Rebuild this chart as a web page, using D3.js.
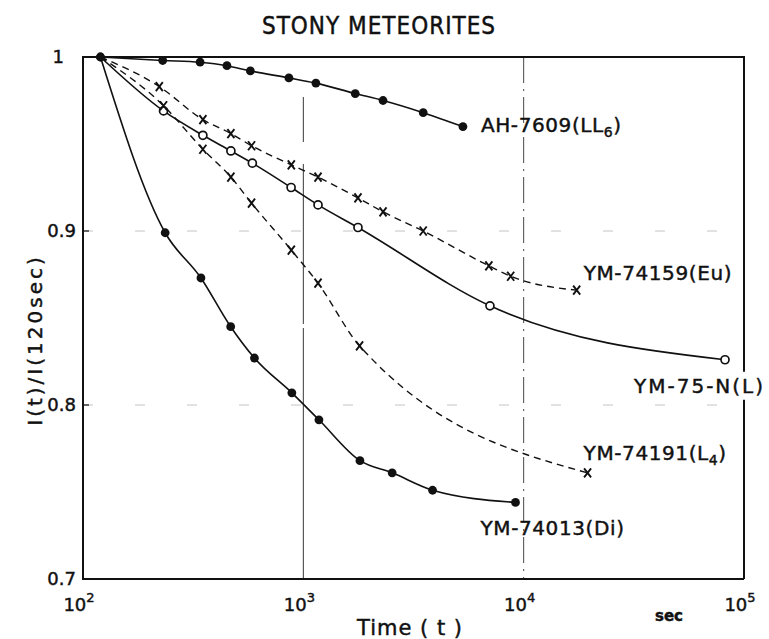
<!DOCTYPE html>
<html>
<head>
<meta charset="utf-8">
<script src="https://cdn.jsdelivr.net/npm/d3@7"></script>
<style>
  body { margin: 0; background: #fff; }
  svg { font-family: "DejaVu Sans", sans-serif; }
  svg text { fill: #111; stroke: #111; stroke-width: 0.45; }
  .curve { fill: none; stroke: #111; stroke-width: 1.6; }
  .curve.dashed { stroke-width: 1.4; stroke-dasharray: 7,5; }
  .frame { stroke: #111; stroke-width: 2; fill: none; }
  .label { font-size: 20px; }
  .tick-label { font-size: 18px; }
</style>
</head>
<body>
<script>

// values: time in sec, I(t)/I(120sec)
const ah7609Time  = [120, 230, 340, 450, 575, 860, 1140, 1720, 2300, 3500, 5300];
const ah7609Value = [1.0, 0.998, 0.997, 0.995, 0.992, 0.988, 0.985, 0.979, 0.975, 0.968, 0.960];

const ym74159Time  = [120, 222, 350, 469, 582, 882, 1166, 1770, 2300, 3500, 6950, 8730, 17400];
const ym74159Value = [1.0, 0.983, 0.964, 0.956, 0.949, 0.938, 0.931, 0.919, 0.911, 0.900, 0.880, 0.874, 0.866];

const ym75nTime  = [120, 232, 350, 469, 587, 880, 1166, 1770, 7030, 82000];
const ym75nValue = [1.0, 0.969, 0.955, 0.946, 0.939, 0.925, 0.915, 0.902, 0.857, 0.826];

const ym74191Time  = [120, 232, 350, 469, 582, 882, 1166, 1800, 19500];
const ym74191Value = [1.0, 0.972, 0.947, 0.931, 0.916, 0.889, 0.870, 0.834, 0.761];

const ym74013Time  = [120, 236, 343, 468, 600, 887, 1177, 1807, 2530, 3860, 9180];
const ym74013Value = [1.0, 0.899, 0.873, 0.845, 0.827, 0.807, 0.7915, 0.768, 0.761, 0.751, 0.744];

const yTicks = [0.7, 0.8, 0.9, 1.0];
const yTickLabels = ["0.7", "0.8", "0.9", "1"];
const xTicks = [1e2, 1e3, 1e4, 1e5];
const xTickExponents = ["2", "3", "4", "5"];

const titleText = "STONY METEORITES";
const xTitle = "Time ( t )";
const yTitle = "I(t)/I(120sec)";


// **********************************************************
//                      Definitions
// **********************************************************

const width = 769, height = 639;

const xScale = d3.scaleLog()
    .domain([1e2, 1e5])
    .range([83, 744]);

const yScale = d3.scaleLinear()
    .domain([0.7, 1.0])
    .range([579, 57]);

const lineFunction = d3.line()
    .x((d) => xScale(d.t))
    .y((d) => yScale(d.v))
    .curve(d3.curveMonotoneX);

// label name / subscript, line style, marker, label offset from last point
const series = [
    {name: "AH-7609(LL", sub: "6", tail: ")", time: ah7609Time, value: ah7609Value,
     dashed: false, marker: "dot", dx: 18, dy: 5, spacing: 0.6},
    {name: "YM-74159(Eu)", sub: "", tail: "", time: ym74159Time, value: ym74159Value,
     dashed: true, marker: "cross", dx: 7, dy: -10, spacing: 0.6},
    {name: "YM-75-N(L)", sub: "", tail: "", time: ym75nTime, value: ym75nValue,
     dashed: false, marker: "open", dx: -91, dy: 33, spacing: 2, knockout: true},
    {name: "YM-74191(L", sub: "4", tail: ")", time: ym74191Time, value: ym74191Value,
     dashed: true, marker: "cross", dx: -4, dy: -13, spacing: 0.6},
    {name: "YM-74013(Di)", sub: "", tail: "", time: ym74013Time, value: ym74013Value,
     dashed: false, marker: "dot", dx: -35, dy: 33, spacing: 0.6}
];

series.forEach((s) => {
    s.points = s.time.map((t, i) => ({t: t, v: s.value[i], first: i === 0}));
});


// **********************************************************
//                   Container for diagram
// **********************************************************

const svg = d3.select("body")
    .append("svg")
    .attr("width", width)
    .attr("height", height);

svg.append("rect")
    .attr("width", width)
    .attr("height", height)
    .attr("fill", "#fff");


// **********************************************************
//                      Grid and frame
// **********************************************************

const [x0, x1] = xScale.range();
const [y0, y1] = yScale.range();

// faint horizontal guides
svg.selectAll(".hgrid")
    .data([0.8, 0.9])
    .enter()
    .append("line")
    .attr("class", "hgrid")
    .attr("x1", x0).attr("x2", x1)
    .attr("y1", (d) => yScale(d)).attr("y2", (d) => yScale(d))
    .style("stroke", "#b5b5b5")
    .style("stroke-width", 0.8)
    .style("stroke-dasharray", "10,42");

// vertical guides at 10^3 (thin line) and 10^4 (dash-dot)
svg.append("line")
    .attr("x1", xScale(1e3)).attr("x2", xScale(1e3))
    .attr("y1", yScale(0.977)).attr("y2", y0)
    .style("stroke", "#222")
    .style("stroke-width", 0.9)
    .style("stroke-dasharray", "45,22,160,4,400");

svg.append("line")
    .attr("x1", xScale(1e4)).attr("x2", xScale(1e4))
    .attr("y1", y1).attr("y2", y0)
    .style("stroke", "#333")
    .style("stroke-width", 0.9)
    .style("stroke-dasharray", "26,6,2,6");

// frame
svg.append("path")
    .attr("class", "frame")
    .attr("d", `M${x1},${y0}L${x0},${y0}L${x0},${y1}L${x1},${y1}L${x1},${y0}`);

// small inner ticks on the left axis
svg.selectAll(".ytick")
    .data([0.8, 0.9])
    .enter()
    .append("line")
    .attr("x1", x0).attr("x2", x0 + 6)
    .attr("y1", (d) => yScale(d)).attr("y2", (d) => yScale(d))
    .style("stroke", "#111")
    .style("stroke-width", 1.2);


// **********************************************************
//                         Axes text
// **********************************************************

svg.selectAll(".y-label")
    .data(yTicks)
    .enter()
    .append("text")
    .attr("class", "tick-label")
    .attr("x", (d, i) => yTickLabels[i] === "1" ? x0 - 19 : x0 - 7)
    .attr("y", (d) => yScale(d) + 6)
    .attr("text-anchor", "end")
    .text((d, i) => yTickLabels[i]);

const xl = svg.selectAll(".x-label")
    .data(xTicks)
    .enter()
    .append("text")
    .attr("class", "tick-label")
    .attr("x", (d) => xScale(d) - 4)
    .attr("y", 611)
    .attr("text-anchor", "middle");
xl.append("tspan").text("10");
xl.append("tspan")
    .attr("dy", -9)
    .style("font-size", "13px")
    .text((d, i) => xTickExponents[i]);

svg.append("text")
    .attr("x", 669)
    .attr("y", 621)
    .attr("text-anchor", "middle")
    .style("font-size", "15px")
    .style("font-weight", "bold")
    .text("sec");

svg.append("text")
    .attr("x", 410)
    .attr("y", 635)
    .attr("text-anchor", "middle")
    .style("font-size", "21px")
    .style("letter-spacing", "1px")
    .text(xTitle);

svg.append("text")
    .attr("transform", "translate(42,340) rotate(-90)")
    .attr("text-anchor", "middle")
    .style("font-size", "20px")
    .style("letter-spacing", "3px")
    .text(yTitle);

svg.append("text")
    .attr("x", 379)
    .attr("y", 34)
    .attr("text-anchor", "middle")
    .style("font-family", "'DejaVu Sans Condensed', 'Liberation Sans Narrow', 'DejaVu Sans', sans-serif")
    .style("font-size", "24px")
    .style("letter-spacing", "1px")
    .text(titleText);


// **********************************************************
//                         Drawing
// **********************************************************

svg.selectAll(".curve")
    .data(series)
    .enter()
    .append("path")
    .attr("class", (d) => d.dashed ? "curve dashed" : "curve")
    .attr("d", (d) => lineFunction(d.points));

series.forEach((s) => {
    // the shared start point is drawn only by the filled-dot series
    const pts = s.marker === "dot" ? s.points : s.points.filter((p) => !p.first);
    const g = svg.append("g");
    if (s.marker === "dot") {
        g.selectAll("circle").data(pts).enter()
            .append("circle")
            .attr("r", 4.4)
            .attr("cx", (d) => xScale(d.t))
            .attr("cy", (d) => yScale(d.v))
            .style("fill", "#111");
    } else if (s.marker === "open") {
        g.selectAll("circle").data(pts).enter()
            .append("circle")
            .attr("r", 4)
            .attr("cx", (d) => xScale(d.t))
            .attr("cy", (d) => yScale(d.v))
            .style("fill", "#fff")
            .style("stroke", "#111")
            .style("stroke-width", 1.7);
    } else {
        g.selectAll("path").data(pts).enter()
            .append("path")
            .attr("d", "M-3.5,-4.5L3.5,4.5M3.5,-4.5L-3.5,4.5")
            .attr("transform", (d) => `translate(${xScale(d.t)},${yScale(d.v)})`)
            .style("stroke", "#111")
            .style("stroke-width", 1.9)
            .style("fill", "none");
    }
});

// series labels
series.forEach((s) => {
    const last = s.points[s.points.length - 1];
    const g = svg.append("g");
    const label = g.append("text")
        .attr("class", "label")
        .attr("x", xScale(last.t) + s.dx)
        .attr("y", yScale(last.v) + s.dy)
        .style("letter-spacing", s.spacing + "px");
    label.append("tspan").text(s.name);
    if (s.sub) {
        label.append("tspan").attr("dy", 5).style("font-size", "14px").text(s.sub);
        label.append("tspan").attr("dy", -5).text(s.tail);
    }
    if (s.knockout) {
        const bb = label.node().getBBox();
        g.insert("rect", "text")
            .attr("x", bb.x - 2).attr("y", bb.y - 2)
            .attr("width", bb.width + 4).attr("height", bb.height + 4)
            .style("fill", "#fff")
            .style("stroke", "none");
    }
});

</script>
</body>
</html>
